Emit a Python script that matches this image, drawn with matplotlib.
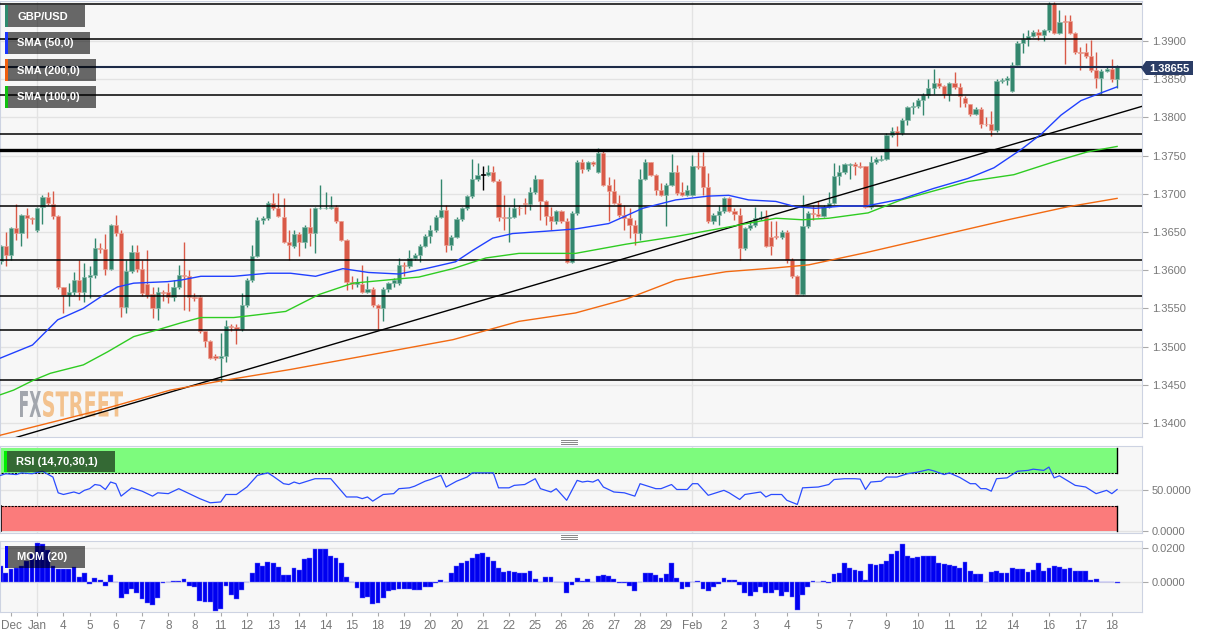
import matplotlib
matplotlib.use('Agg')
import matplotlib.pyplot as plt
from matplotlib.patches import Rectangle, Polygon, PathPatch
from matplotlib.lines import Line2D
from matplotlib.textpath import TextPath
from matplotlib.font_manager import FontProperties
from matplotlib.transforms import Affine2D, IdentityTransform

plt.rcParams['font.family'] = ['Liberation Sans', 'DejaVu Sans']

# GBP/USD 4h candles, Dec 31 -> Feb 18
opens = [
    1.3612, 1.3631, 1.3620, 1.3655, 1.3649, 1.3672, 1.3668, 1.3653, 1.3683, 1.3696,
    1.3687, 1.3671, 1.3578, 1.3568, 1.3572, 1.3587, 1.3571, 1.3591, 1.3594, 1.3629,
    1.3628, 1.3602, 1.3659, 1.3649, 1.3552, 1.3599, 1.3624, 1.3602, 1.3582, 1.3569,
    1.3550, 1.3571, 1.3571, 1.3565, 1.3578, 1.3594, 1.3592, 1.3565, 1.3565, 1.3520,
    1.3507, 1.3487, 1.3485, 1.3488, 1.3527, 1.3525, 1.3523, 1.3554, 1.3587, 1.3619,
    1.3666, 1.3668, 1.3688, 1.3681, 1.3670, 1.3637, 1.3631, 1.3648, 1.3637, 1.3657,
    1.3649, 1.3681, 1.3681, 1.3682, 1.3683, 1.3664, 1.3640, 1.3585, 1.3582, 1.3582,
    1.3572, 1.3576, 1.3554, 1.3550, 1.3576, 1.3583, 1.3583, 1.3607, 1.3605, 1.3616,
    1.3620, 1.3632, 1.3645, 1.3652, 1.3670, 1.3679, 1.3633, 1.3644, 1.3667, 1.3681,
    1.3697, 1.3719, 1.3725, 1.3725, 1.3729, 1.3717, 1.3669, 1.3668, 1.3670, 1.3682,
    1.3688, 1.3686, 1.3702, 1.3719, 1.3691, 1.3671, 1.3664, 1.3678, 1.3665, 1.3611,
    1.3675, 1.3741, 1.3732, 1.3741, 1.3729, 1.3754, 1.3712, 1.3704, 1.3688, 1.3672,
    1.3668, 1.3659, 1.3649, 1.3720, 1.3741, 1.3725, 1.3705, 1.3699, 1.3712, 1.3728,
    1.3703, 1.3699, 1.3699, 1.3736, 1.3736, 1.3709, 1.3664, 1.3672, 1.3677, 1.3694,
    1.3678, 1.3672, 1.3629, 1.3655, 1.3659, 1.3668, 1.3670, 1.3644, 1.3645, 1.3643,
    1.3650, 1.3613, 1.3592, 1.3569, 1.3658, 1.3675, 1.3674, 1.3671, 1.3683, 1.3688,
    1.3723, 1.3728, 1.3738, 1.3739, 1.3736, 1.3736, 1.3683, 1.3742, 1.3744, 1.3746,
    1.3777, 1.3782, 1.3779, 1.3797, 1.3813, 1.3815, 1.3823, 1.3829, 1.3838, 1.3845,
    1.3841, 1.3830, 1.3845, 1.3840, 1.3826, 1.3817, 1.3805, 1.3811, 1.3792, 1.3792,
    1.3783, 1.3848, 1.3849, 1.3835, 1.3869, 1.3898, 1.3902, 1.3907, 1.3912, 1.3908,
    1.3914, 1.3949, 1.3911, 1.3926, 1.3926, 1.3911, 1.3886, 1.3886, 1.3880, 1.3862,
    1.3851, 1.3861, 1.3864, 1.3850]
highs = [
    1.3633, 1.3650, 1.3657, 1.3687, 1.3674, 1.3681, 1.3670, 1.3683, 1.3698, 1.3703,
    1.3704, 1.3672, 1.3578, 1.3583, 1.3598, 1.3613, 1.3609, 1.3605, 1.3642, 1.3635,
    1.3648, 1.3661, 1.3672, 1.3652, 1.3613, 1.3633, 1.3633, 1.3613, 1.3626, 1.3578,
    1.3578, 1.3574, 1.3583, 1.3587, 1.3607, 1.3637, 1.3600, 1.3570, 1.3567, 1.3520,
    1.3508, 1.3490, 1.3518, 1.3535, 1.3530, 1.3530, 1.3570, 1.3590, 1.3633, 1.3669,
    1.3671, 1.3690, 1.3701, 1.3701, 1.3694, 1.3653, 1.3653, 1.3650, 1.3659, 1.3681,
    1.3683, 1.3712, 1.3702, 1.3697, 1.3685, 1.3665, 1.3641, 1.3592, 1.3590, 1.3607,
    1.3592, 1.3578, 1.3556, 1.3578, 1.3585, 1.3590, 1.3616, 1.3611, 1.3627, 1.3622,
    1.3634, 1.3647, 1.3659, 1.3672, 1.3719, 1.3685, 1.3646, 1.3670, 1.3683, 1.3699,
    1.3746, 1.3740, 1.3736, 1.3738, 1.3736, 1.3719, 1.3699, 1.3683, 1.3694, 1.3685,
    1.3694, 1.3709, 1.3725, 1.3720, 1.3692, 1.3683, 1.3679, 1.3679, 1.3668, 1.3677,
    1.3744, 1.3746, 1.3743, 1.3743, 1.3760, 1.3756, 1.3722, 1.3720, 1.3698, 1.3685,
    1.3681, 1.3666, 1.3733, 1.3746, 1.3742, 1.3726, 1.3714, 1.3714, 1.3752, 1.3738,
    1.3716, 1.3712, 1.3751, 1.3755, 1.3755, 1.3727, 1.3675, 1.3685, 1.3696, 1.3696,
    1.3681, 1.3681, 1.3657, 1.3664, 1.3683, 1.3677, 1.3679, 1.3664, 1.3664, 1.3653,
    1.3653, 1.3616, 1.3594, 1.3698, 1.3677, 1.3685, 1.3690, 1.3685, 1.3703, 1.3740,
    1.3738, 1.3740, 1.3740, 1.3742, 1.3742, 1.3737, 1.3749, 1.3748, 1.3751, 1.3780,
    1.3788, 1.3789, 1.3799, 1.3815, 1.3820, 1.3825, 1.3832, 1.3850, 1.3864, 1.3852,
    1.3842, 1.3847, 1.3860, 1.3845, 1.3828, 1.3818, 1.3813, 1.3813, 1.3801, 1.3808,
    1.3850, 1.3851, 1.3854, 1.3872, 1.3900, 1.3910, 1.3914, 1.3915, 1.3916, 1.3916,
    1.3951, 1.3951, 1.3941, 1.3934, 1.3934, 1.3912, 1.3892, 1.3897, 1.3901, 1.3886,
    1.3863, 1.3866, 1.3877, 1.3868]
lows = [
    1.3608, 1.3605, 1.3613, 1.3640, 1.3631, 1.3642, 1.3660, 1.3650, 1.3661, 1.3685,
    1.3667, 1.3576, 1.3544, 1.3553, 1.3568, 1.3561, 1.3558, 1.3563, 1.3590, 1.3622,
    1.3594, 1.3600, 1.3645, 1.3539, 1.3544, 1.3596, 1.3598, 1.3566, 1.3563, 1.3537,
    1.3535, 1.3560, 1.3557, 1.3560, 1.3575, 1.3548, 1.3546, 1.3559, 1.3518, 1.3500,
    1.3484, 1.3482, 1.3454, 1.3480, 1.3520, 1.3504, 1.3520, 1.3552, 1.3585, 1.3617,
    1.3661, 1.3666, 1.3679, 1.3669, 1.3635, 1.3613, 1.3629, 1.3618, 1.3629, 1.3631,
    1.3622, 1.3680, 1.3680, 1.3680, 1.3662, 1.3638, 1.3574, 1.3576, 1.3578, 1.3570,
    1.3570, 1.3552, 1.3522, 1.3533, 1.3572, 1.3578, 1.3581, 1.3592, 1.3603, 1.3613,
    1.3611, 1.3630, 1.3635, 1.3650, 1.3668, 1.3624, 1.3627, 1.3642, 1.3665, 1.3679,
    1.3695, 1.3717, 1.3705, 1.3723, 1.3715, 1.3664, 1.3653, 1.3637, 1.3668, 1.3672,
    1.3674, 1.3679, 1.3700, 1.3666, 1.3659, 1.3653, 1.3660, 1.3662, 1.3609, 1.3609,
    1.3672, 1.3727, 1.3730, 1.3736, 1.3727, 1.3710, 1.3664, 1.3686, 1.3670, 1.3653,
    1.3642, 1.3633, 1.3640, 1.3718, 1.3723, 1.3698, 1.3697, 1.3658, 1.3710, 1.3699,
    1.3697, 1.3697, 1.3697, 1.3733, 1.3698, 1.3662, 1.3660, 1.3659, 1.3675, 1.3676,
    1.3666, 1.3613, 1.3627, 1.3653, 1.3657, 1.3666, 1.3630, 1.3620, 1.3641, 1.3641,
    1.3609, 1.3590, 1.3568, 1.3567, 1.3655, 1.3666, 1.3669, 1.3669, 1.3681, 1.3686,
    1.3712, 1.3726, 1.3719, 1.3725, 1.3734, 1.3681, 1.3680, 1.3739, 1.3743, 1.3744,
    1.3775, 1.3763, 1.3777, 1.3790, 1.3805, 1.3812, 1.3803, 1.3826, 1.3830, 1.3839,
    1.3826, 1.3821, 1.3837, 1.3814, 1.3814, 1.3802, 1.3803, 1.3786, 1.3789, 1.3776,
    1.3781, 1.3845, 1.3843, 1.3833, 1.3866, 1.3884, 1.3893, 1.3905, 1.3901, 1.3900,
    1.3912, 1.3909, 1.3909, 1.3870, 1.3909, 1.3883, 1.3862, 1.3878, 1.3860, 1.3838,
    1.3830, 1.3859, 1.3847, 1.3838]
closes = [
    1.3631, 1.3620, 1.3655, 1.3649, 1.3672, 1.3668, 1.3667, 1.3681, 1.3696, 1.3688,
    1.3671, 1.3578, 1.3568, 1.3572, 1.3587, 1.3571, 1.3591, 1.3594, 1.3629, 1.3628,
    1.3602, 1.3659, 1.3649, 1.3552, 1.3599, 1.3624, 1.3602, 1.3570, 1.3568, 1.3550,
    1.3571, 1.3570, 1.3565, 1.3578, 1.3594, 1.3592, 1.3565, 1.3563, 1.3520, 1.3507,
    1.3485, 1.3485, 1.3488, 1.3527, 1.3525, 1.3523, 1.3554, 1.3587, 1.3619, 1.3666,
    1.3668, 1.3688, 1.3681, 1.3671, 1.3637, 1.3633, 1.3648, 1.3637, 1.3657, 1.3649,
    1.3681, 1.3682, 1.3682, 1.3683, 1.3664, 1.3640, 1.3585, 1.3582, 1.3585, 1.3572,
    1.3576, 1.3554, 1.3550, 1.3576, 1.3583, 1.3587, 1.3607, 1.3605, 1.3616, 1.3620,
    1.3632, 1.3645, 1.3652, 1.3670, 1.3679, 1.3633, 1.3644, 1.3667, 1.3681, 1.3697,
    1.3719, 1.3725, 1.3725, 1.3729, 1.3717, 1.3669, 1.3668, 1.3670, 1.3682, 1.3681,
    1.3686, 1.3702, 1.3719, 1.3691, 1.3671, 1.3664, 1.3678, 1.3665, 1.3611, 1.3675,
    1.3742, 1.3732, 1.3741, 1.3739, 1.3754, 1.3712, 1.3704, 1.3688, 1.3672, 1.3668,
    1.3659, 1.3649, 1.3720, 1.3741, 1.3725, 1.3705, 1.3699, 1.3712, 1.3728, 1.3701,
    1.3699, 1.3705, 1.3736, 1.3735, 1.3709, 1.3664, 1.3672, 1.3677, 1.3694, 1.3678,
    1.3674, 1.3629, 1.3655, 1.3659, 1.3668, 1.3670, 1.3632, 1.3632, 1.3643, 1.3650,
    1.3613, 1.3592, 1.3569, 1.3658, 1.3675, 1.3674, 1.3671, 1.3683, 1.3688, 1.3723,
    1.3728, 1.3739, 1.3739, 1.3736, 1.3735, 1.3683, 1.3742, 1.3745, 1.3746, 1.3777,
    1.3782, 1.3779, 1.3797, 1.3813, 1.3815, 1.3823, 1.3829, 1.3838, 1.3845, 1.3841,
    1.3831, 1.3845, 1.3840, 1.3828, 1.3819, 1.3804, 1.3811, 1.3791, 1.3791, 1.3783,
    1.3848, 1.3849, 1.3852, 1.3869, 1.3898, 1.3902, 1.3907, 1.3912, 1.3908, 1.3914,
    1.3949, 1.3911, 1.3925, 1.3925, 1.3911, 1.3885, 1.3884, 1.3880, 1.3862, 1.3851,
    1.3861, 1.3864, 1.3850, 1.38655]

# moving averages, sampled along the curves (candle index, price)
sma50_x = [0, 6.1, 10.9, 15.8, 19.1, 22.3, 25.4, 31.9, 34.4, 38.2, 44.5, 51, 55.3, 60.1,
           65.3, 70.2, 76, 81.1, 86.8, 90.1, 93.9, 97.7, 104, 109.7, 116, 122.5, 128.8,
           135.1, 138.9, 142.7, 147.9, 151.7, 155.5, 160.7, 165.1, 171.8, 178, 184.5,
           189.5, 194.7, 198.5, 202.3, 206.1, 209.9, 213]
sma50_y = [1.3485, 1.3502, 1.3535, 1.3550, 1.3565, 1.3578, 1.3583, 1.3585, 1.3587, 1.3592,
           1.3592, 1.3596, 1.3596, 1.3592, 1.3602, 1.3597, 1.3595, 1.3602, 1.3611, 1.3626,
           1.3642, 1.3648, 1.3651, 1.3654, 1.3661, 1.3681, 1.3692, 1.3697, 1.3698, 1.3692,
           1.3690, 1.3683, 1.3681, 1.3684, 1.3684, 1.3693, 1.3707, 1.3720, 1.3734, 1.3758,
           1.3778, 1.3803, 1.3822, 1.3832, 1.3840]
sma100_x = [0, 2.5, 6.3, 9.5, 15.8, 20.4, 25.4, 30, 34.4, 38.2, 44.5, 48.3, 54.4, 60.7,
            67.2, 73.5, 79.8, 86.3, 92.6, 98.9, 105.3, 109.7, 119.3, 128.8, 138.4, 147.9,
            153, 158, 165.5, 171.8, 184.5, 193.3, 201, 207.4, 213]
sma100_y = [1.3437, 1.3443, 1.3456, 1.3465, 1.3476, 1.3493, 1.3513, 1.3522, 1.3531, 1.3538,
            1.3538, 1.3541, 1.3546, 1.3568, 1.3583, 1.3587, 1.3591, 1.3602, 1.3616, 1.3622,
            1.3622, 1.3622, 1.3634, 1.3644, 1.3656, 1.3668, 1.3666, 1.3668, 1.3675, 1.3692,
            1.3716, 1.3725, 1.3742, 1.3755, 1.3762]
sma200_x = [0, 19.1, 32.4, 42, 55.3, 86.3, 98.9, 109.7, 119.3, 128.8, 138.4, 147.9, 154.2,
            165.1, 192.2, 203.6, 213]
sma200_y = [1.3384, 1.3417, 1.3443, 1.3455, 1.3470, 1.3509, 1.3533, 1.3544, 1.3562, 1.3587,
            1.3598, 1.3603, 1.3607, 1.3623, 1.3666, 1.3683, 1.3694]

trend_x = [0, 218]
trend_y = [1.3375, 1.3815]
levels = [1.3948, 1.3902, 1.3829, 1.3778, 1.3684, 1.3613, 1.3566, 1.3522, 1.3456]
thick_level = 1.3757
last_price = 1.38655

rsi_x = [0, 1, 3, 4, 6, 8, 10, 11, 12, 14, 15, 16, 17, 18, 19, 20, 21, 22, 23, 25, 27, 29,
         30, 32, 34, 36, 38, 40, 42, 43, 45, 47, 49, 51, 52, 54, 55, 56, 57, 58, 60, 63, 66,
         68, 69, 70, 71, 73, 75, 76, 78, 79, 81, 82, 84, 85, 87, 89, 90, 94, 95, 97, 98,
         100, 102, 103, 105, 106, 108, 109, 110, 111, 112, 113, 114, 115, 117, 119, 121,
         122, 125, 126, 128, 129, 131, 132, 133, 135, 136, 138, 139, 141, 142, 145, 146,
         147, 149, 150, 152, 153, 156, 158, 159, 161, 163, 164, 165, 166, 168, 169, 171,
         173, 175, 177, 178, 180, 181, 183, 185, 186, 187, 188, 189, 190, 192, 194, 196,
         197, 199, 200, 201, 202, 205, 207, 209, 211, 212, 213]
rsi_y = [67, 69, 68, 70, 69, 72, 65, 46, 44, 47, 45, 49, 51, 56, 55, 50, 59, 57, 42, 52, 48,
         42, 46, 45, 51, 45, 39, 34, 35, 44, 44, 53, 67, 70, 66, 57, 56, 59, 57, 59, 63, 63,
         41, 41, 39, 41, 36, 44, 45, 51, 52, 54, 60, 62, 67, 53, 60, 65, 70, 70, 52, 52, 55,
         56, 63, 51, 47, 51, 37, 49, 61, 59, 60, 59, 62, 53, 47, 46, 42, 57, 51, 51, 56, 50,
         50, 57, 57, 43, 45, 49, 46, 38, 44, 47, 41, 44, 44, 37, 32, 52, 53, 56, 62, 63, 63,
         62.5, 50, 59, 60, 65, 65, 69, 71, 74, 72.5, 68, 70, 64.5, 57, 57, 51, 51, 48, 63,
         64, 72, 73, 74.5, 73, 77, 64, 66.5, 55, 53, 45, 49, 45, 50]

mom = [
    0.0096, 0.0057, 0.0080, 0.0086, 0.0098, 0.0125, 0.0165, 0.0230, 0.0225, 0.0190,
    0.0096, 0.0076, 0.0076, 0.0076, 0.0088, 0.0033, 0.0057, -0.0010, 0.0024, 0.0014,
    -0.0021, 0.0040, 0.0000, -0.0094, -0.0069, -0.0041, -0.0060, -0.0098, -0.0120, -0.0133,
    -0.0094, -0.0006, 0.0000, 0.0008, 0.0008, 0.0018, -0.0022, -0.0025, -0.0108, -0.0118,
    -0.0114, -0.0169, -0.0159, -0.0022, -0.0075, -0.0100, -0.0045, 0.0004, 0.0053, 0.0112,
    0.0096, 0.0118, 0.0116, 0.0092, 0.0043, 0.0043, 0.0082, 0.0073, 0.0137, 0.0141,
    0.0194, 0.0194, 0.0194, 0.0155, 0.0141, 0.0116, 0.0029, 0.0000, -0.0031, -0.0090,
    -0.0088, -0.0127, -0.0124, -0.0090, -0.0049, -0.0045, -0.0041, -0.0039, -0.0041, -0.0045,
    -0.0045, -0.0029, -0.0025, -0.0006, 0.0014, 0.0000, 0.0057, 0.0096, 0.0116, 0.0125,
    0.0141, 0.0167, 0.0171, 0.0151, 0.0125, 0.0082, 0.0063, 0.0067, 0.0063, 0.0057,
    0.0057, 0.0067, 0.0020, 0.0000, 0.0033, 0.0033, 0.0000, 0.0000, -0.0065, -0.0016,
    0.0024, 0.0008, 0.0018, 0.0000, 0.0037, 0.0043, 0.0037, 0.0018, -0.0006, -0.0006,
    -0.0022, -0.0049, 0.0000, 0.0053, 0.0057, 0.0043, 0.0024, 0.0047, 0.0116, 0.0027,
    -0.0041, -0.0029, 0.0000, 0.0008, -0.0041, -0.0049, -0.0029, -0.0010, 0.0024, 0.0014,
    0.0014, -0.0016, -0.0061, -0.0078, -0.0055, -0.0025, -0.0065, -0.0065, -0.0045, -0.0078,
    -0.0055, -0.0084, -0.0163, -0.0074, -0.0029, 0.0010, 0.0000, 0.0008, -0.0002, 0.0049,
    0.0057, 0.0112, 0.0082, 0.0073, 0.0069, 0.0014, 0.0108, 0.0102, 0.0108, 0.0125,
    0.0167, 0.0184, 0.0225, 0.0155, 0.0141, 0.0151, 0.0155, 0.0155, 0.0155, 0.0116,
    0.0108, 0.0102, 0.0096, 0.0082, 0.0118, 0.0069, 0.0049, 0.0049, 0.0004, 0.0063,
    0.0069, 0.0057, 0.0057, 0.0082, 0.0078, 0.0076, 0.0063, 0.0073, 0.0116, 0.0067,
    0.0082, 0.0098, 0.0092, 0.0078, 0.0086, 0.0067, 0.0067, 0.0069, 0.0014, 0.0018,
    0.0004, 0.0000, 0.0000, -0.0002]

tick_pos = [2, 7, 12, 17, 22, 27, 32, 37, 42, 47, 52, 57, 62, 67, 72, 77, 82, 87, 92, 97,
            102, 107, 112, 117, 122, 127, 132, 138, 144, 150, 156, 162, 169, 175, 181, 187,
            193, 200, 206, 212]
tick_lab = ['Dec', 'Jan', '4', '5', '6', '7', '8', '8', '11', '12', '13', '14', '14', '15',
            '18', '19', '20', '20', '21', '22', '25', '26', '26', '27', '28', '29', 'Feb',
            '2', '3', '4', '5', '7', '9', '10', '11', '12', '14', '16', '17', '18']
month_starts = [7, 132]

n = len(closes)
assert len(opens) == n and len(highs) == n and len(lows) == n and len(mom) == n

W, H = 1212, 638
fig = plt.figure(figsize=(W / 100, H / 100), dpi=100)
fig.patch.set_facecolor('white')


def rect(top, bottom, left=0, right=1142):
    return [left / W, 1 - bottom / H, (right - left) / W, (bottom - top) / H]


ax = fig.add_axes(rect(1, 437))
ax_rsi = fig.add_axes(rect(446, 533), sharex=ax)
ax_mom = fig.add_axes(rect(541, 612), sharex=ax)

bg = '#f7f7f7'
spine_c = '#cdd3e2'
lab_c = '#777777'
grid_c = '#e3e3e3'
for a in (ax, ax_rsi, ax_mom):
    a.set_facecolor(bg)
    for s in a.spines.values():
        s.set_color(spine_c)
    a.yaxis.tick_right()
    a.tick_params(axis='y', length=4, color='#aaaaaa', labelsize=8, labelcolor=lab_c, pad=3)
    a.set_axisbelow(True)
    a.grid(axis='y', color=grid_c, lw=1)
    for m in month_starts:
        a.axvline(m, color=grid_c, lw=1, zorder=0)

# candles
up_c, dn_c = '#34876e', '#d95a48'
for i in range(n):
    o, h, l, c = opens[i], highs[i], lows[i], closes[i]
    if c > o:
        col, edge = up_c, '#86b9a8'
    elif c < o:
        col, edge = dn_c, '#eba295'
    else:
        col, edge = 'black', 'black'
    ax.vlines(i, l, h, color=col, lw=1, zorder=2)
    ax.bar(i, max(abs(c - o), 0.0001), bottom=min(o, c), width=0.8, color=col,
           edgecolor=edge, linewidth=0.5, zorder=2.5)

for lv in levels:
    ax.axhline(lv, color='black', lw=1.1, zorder=3)
ax.axhline(thick_level, color='black', lw=2.4, zorder=3)
ax.axhline(last_price, color='#1d2b48', lw=1.5, zorder=3)
ax.plot(trend_x, trend_y, color='black', lw=1, zorder=3)
ax.plot(sma200_x, sma200_y, color='#f26a12', lw=1, zorder=4)
ax.plot(sma100_x, sma100_y, color='#2fcc22', lw=1, zorder=4)
ax.plot(sma50_x, sma50_y, color='#2040ff', lw=1, zorder=4)

ax.set_xlim(-0.1, 217.75)
ax.set_ylim(1.33816, 1.39524)
ax.set_yticks([1.34, 1.345, 1.35, 1.355, 1.36, 1.365, 1.37, 1.375, 1.38, 1.385, 1.39])
ax.yaxis.set_major_formatter(plt.FormatStrFormatter('%.4f'))
ax.tick_params(axis='x', bottom=False, labelbottom=False)

# FXStreet watermark


def add_word(s, x0, x1, ytop, ybot, color):
    fp = FontProperties(family='DejaVu Sans', weight='bold')
    tp = TextPath((0, 0), s, size=100, prop=fp)
    ext = tp.get_extents()
    tr = (Affine2D().translate(-ext.x0, -ext.y0)
          .scale((x1 - x0) / ext.width, (ybot - ytop) / ext.height)
          .translate(x0, H - ybot))
    p = PathPatch(tr.transform_path(tp), fc=color, ec='none',
                  transform=IdentityTransform(), zorder=0.5)
    ax.add_artist(p)


add_word('FX', 20, 41, 391, 417, '#a2a6ad')
add_word('STREET', 43, 123, 391, 417, '#f3c28e')

# RSI panel
ax_rsi.add_patch(Rectangle((0, 70), n - 1, 30, fc='#7dfb7d', ec='none', zorder=1))
ax_rsi.add_patch(Rectangle((0, 0), n - 1, 30, fc='#fb7b7b', ec='none', zorder=1))
for yv in (70, 30):
    ax_rsi.plot([0, n - 1], [yv, yv], color='black', lw=0.8, ls=(0, (2, 1)), zorder=2)
ax_rsi.plot([n - 1, n - 1], [70, 100], color='black', lw=1, zorder=2)
ax_rsi.plot([n - 1, n - 1], [0, 30], color='black', lw=1, zorder=2)
ax_rsi.plot([0, 0], [0, 30], color='black', lw=1.2, zorder=2)
ax_rsi.plot(rsi_x, rsi_y, color='#2a4cff', lw=0.9, zorder=3)
ax_rsi.set_ylim(-2.4, 102.4)
ax_rsi.set_yticks([0, 50])
ax_rsi.yaxis.set_major_formatter(plt.FormatStrFormatter('%.4f'))
ax_rsi.tick_params(axis='x', bottom=False, labelbottom=False)

# momentum panel
ax_mom.bar(range(n), mom, width=0.92, color='#0000f0', edgecolor='#6a6aff', linewidth=0.3,
           zorder=2)
ax_mom.set_ylim(-0.01746, 0.02428)
ax_mom.set_yticks([0, 0.02])
ax_mom.yaxis.set_major_formatter(plt.FormatStrFormatter('%.4f'))
ax_mom.set_xticks(tick_pos)
ax_mom.set_xticklabels(tick_lab)
ax_mom.tick_params(axis='x', length=3, color='#aaaaaa', labelsize=8.5, labelcolor=lab_c,
                   pad=3)
ax_mom.set_xlim(-0.1, 217.75)


# legend boxes (pixel positions)
def fxy(x, y):
    return x / W, 1 - y / H


def legend_box(label, x0, y0, x1, y1, mark):
    fig.patches.append(Rectangle(fxy(x0, y1), (x1 - x0) / W, (y1 - y0) / H,
                                 transform=fig.transFigure, fc='black', alpha=0.58,
                                 ec='none', zorder=5))
    fig.patches.append(Rectangle(fxy(x0, y1), 3 / W, (y1 - y0) / H,
                                 transform=fig.transFigure, fc=mark, ec='none', zorder=6))
    fig.text(*fxy(x0 + 12, (y0 + y1) / 2 + 0.5), label, color='white', fontsize=8,
             fontweight='bold', va='center', ha='left', zorder=7)


legend_box('GBP/USD', 5, 5, 85, 27, '#2e8b6e')
legend_box('SMA (50,0)', 5, 32, 90, 54, '#1a35ff')
legend_box('SMA (200,0)', 5, 59, 96, 81, '#f06010')
legend_box('SMA (100,0)', 5, 86, 96, 108, '#10c010')
legend_box('RSI (14,70,30,1)', 4, 451, 115, 472, '#00ee00')
legend_box('MOM (20)', 5, 546, 85, 568, '#0000ff')

# last price tag
tag = [fxy(1141, 68), fxy(1146, 61), fxy(1193, 61), fxy(1193, 75), fxy(1146, 75)]
fig.patches.append(Polygon(tag, closed=True, transform=fig.transFigure, fc='#2b3d66',
                           ec='none', zorder=5))
fig.text(*fxy(1169.5, 68.5), '1.38655', color='white', fontsize=8, fontweight='bold',
         ha='center', va='center', zorder=7)

# panel grip marks
for yc in (441.5, 537):
    for dy in (-2, 0, 2):
        fig.add_artist(Line2D([561 / W, 577 / W], [1 - (yc + dy) / H] * 2,
                              transform=fig.transFigure, color='#888888', lw=0.7))

fig.savefig('out.png', dpi=100, facecolor='white')
